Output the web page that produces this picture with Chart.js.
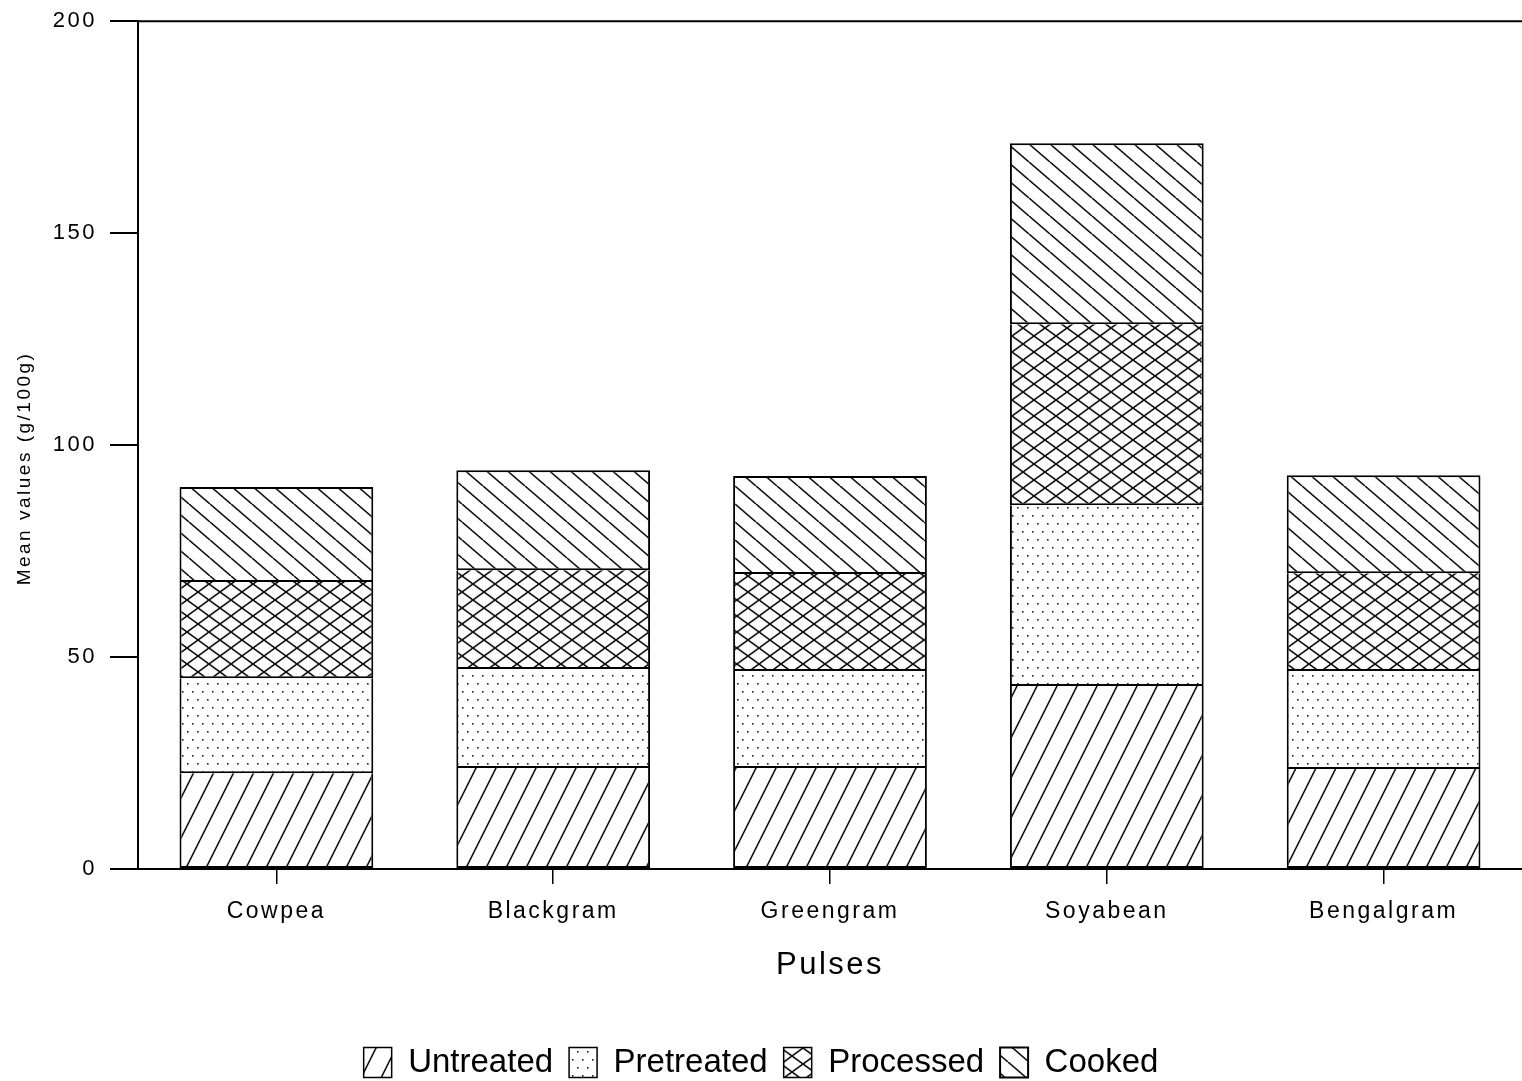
<!DOCTYPE html>
<html>
<head>
<meta charset="utf-8">
<script src="https://cdn.jsdelivr.net/npm/chart.js@4/dist/chart.umd.min.js"></script>
<style>
  body { margin: 0; background: #fff; }
  #wrap { width: 1522px; height: 1081px; }
</style>
</head>
<body>
<div id="wrap"><canvas id="myChart" width="1522" height="1081"></canvas></div>
<script>
const pulses = ['Cowpea', 'Blackgram', 'Greengram', 'Soyabean', 'Bengalgram']
const untreated = [22.6, 23.8, 23.8, 43.2, 23.6]
const pretreated = [22.4, 23.4, 22.9, 42.6, 23.1]
const processed = [22.7, 23.3, 22.9, 42.7, 23.1]
const cooked = [22.4, 23.6, 23.1, 42.7, 23.1]
const yTicks = [0, 50, 100, 150, 200]

const FONT = '"Liberation Sans", Arial, sans-serif'

// hatch fills drawn on small tiles
function tile(w, h, draw) {
  const c = document.createElement('canvas')
  c.width = w
  c.height = h
  const g = c.getContext('2d')
  g.fillStyle = '#fff'
  g.fillRect(0, 0, w, h)
  g.strokeStyle = '#111'
  g.fillStyle = '#222'
  g.lineWidth = 1.6
  draw(g, w, h)
  return c.getContext('2d').createPattern(c, 'repeat')
}

function line(g, x1, y1, x2, y2) {
  g.beginPath()
  g.moveTo(x1, y1)
  g.lineTo(x2, y2)
  g.stroke()
}

const slashFill = tile(20, 40, (g, w, h) => {
  for (let o of [-w, 0, w]) line(g, o, h, o + w, 0)
})
const dotFill = tile(10, 16, (g, w, h) => {
  g.fillRect(2, 3, 1.6, 1.6)
  g.fillRect(7, 11, 1.6, 1.6)
})
const crossFill = tile(22, 16, (g, w, h) => {
  for (let o of [-w, 0, w]) {
    line(g, o, 0, o + w, h)
    line(g, o, h, o + w, 0)
  }
})
const backFill = tile(21, 18, (g, w, h) => {
  for (let o of [-w, 0, w]) line(g, o, 0, o + w, h)
})

// white page, wide letter spacing for the axes (not the legend), top frame line
const frame = {
  id: 'frame',
  beforeDraw(chart) {
    const ctx = chart.ctx
    ctx.fillStyle = '#fff'
    ctx.fillRect(0, 0, chart.width, chart.height)
    ctx.letterSpacing = '2.5px'
    const leg = chart.legend
    if (leg && !leg._wrapped) {
      const orig = leg.draw
      leg.draw = function () {
        ctx.letterSpacing = '0px'
        orig.apply(this, arguments)
        ctx.letterSpacing = '2.5px'
      }
      leg._wrapped = true
    }
  },
  afterDraw(chart) {
    const ctx = chart.ctx
    const y = chart.scales.y.getPixelForValue(200)
    ctx.save()
    ctx.strokeStyle = '#000'
    ctx.lineWidth = 2
    line(ctx, chart.chartArea.left, y, chart.width, y)
    ctx.restore()
  }
}

function ds(label, data, fill, top, bottom) {
  return {
    label: label,
    data: data,
    backgroundColor: fill,
    borderColor: '#000',
    borderWidth: { top: top, bottom: bottom, left: 2, right: 2 },
    borderSkipped: false,
    categoryPercentage: 1,
    barPercentage: 0.7
  }
}

new Chart('myChart', {
  type: 'bar',
  data: {
    labels: pulses,
    datasets: [
      ds('Untreated', untreated, slashFill, 0, 2),
      ds('Pretreated', pretreated, dotFill, 0, 2),
      ds('Processed', processed, crossFill, 0, 2),
      ds('Cooked', cooked, backFill, 2, 2)
    ]
  },
  plugins: [frame],
  options: {
    responsive: false,
    animation: false,
    layout: { padding: { top: 8, left: 0, right: 0, bottom: -8 } },
    plugins: {
      legend: {
        position: 'bottom',
        labels: {
          color: '#000',
          font: { family: FONT, size: 33 },
          boxWidth: 28,
          boxHeight: 30,
          padding: 16
        }
      },
      tooltip: { enabled: false }
    },
    scales: {
      x: {
        stacked: true,
        afterFit: s => { s.height = 161 },
        border: { color: '#000', width: 2 },
        grid: {
          offset: false,
          drawOnChartArea: false,
          drawTicks: true,
          tickLength: 15,
          color: '#000',
          lineWidth: 1.5
        },
        ticks: { color: '#000', font: { family: FONT, size: 23 }, padding: 14 },
        title: {
          display: true,
          text: 'Pulses',
          color: '#000',
          font: { family: FONT, size: 31 },
          padding: { top: 0, bottom: 46 }
        }
      },
      y: {
        stacked: true,
        min: 0,
        max: 200,
        afterFit: s => { s.width = 138 },
        afterBuildTicks: s => { s.ticks = yTicks.map(v => ({ value: v })) },
        border: { color: '#000', width: 2 },
        grid: {
          drawOnChartArea: false,
          drawTicks: true,
          tickLength: 28,
          color: '#000',
          lineWidth: 2
        },
        ticks: { color: '#000', font: { family: FONT, size: 22, lineHeight: 0.75 }, padding: 13 },
        title: {
          display: true,
          text: 'Mean values (g/100g)      ',
          color: '#000',
          font: { family: FONT, size: 19 },
          padding: { top: 13, bottom: 0 }
        }
      }
    }
  }
})
</script>
</body>
</html>
